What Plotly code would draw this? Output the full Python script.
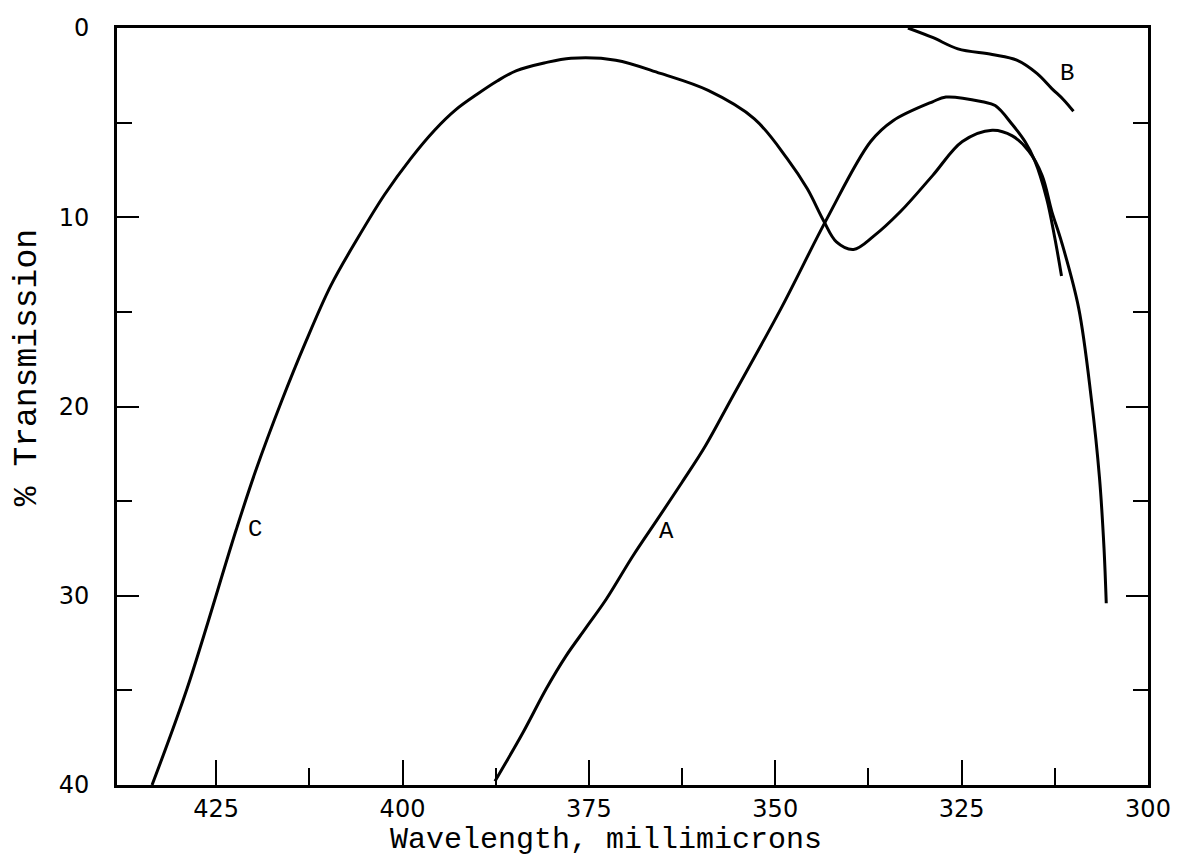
import plotly.graph_objects as go

# ---- data (wavelength in millimicrons, % transmission) ----
wl_A = [387.6, 383.8, 380.7, 378.1, 375.4, 372.7, 369.1, 365.7, 362.5, 359.4, 355.9,
        349.2, 343.1, 337.2, 334.2, 328.9, 327.1, 322.2, 320.5, 318.2, 316.5, 315.2,
        313.6, 312.5, 311.6]
tr_A = [39.8, 37.2, 34.9, 33.2, 31.7, 30.2, 27.9, 25.9, 24.0, 22.1, 19.6,
        14.8, 10.1, 6.0, 4.9, 3.9, 3.65, 3.9, 4.1, 5.1, 6.0, 7.0,
        9.0, 11.1, 13.1]

wl_B = [332.2, 328.9, 325.5, 320.9, 317.6, 314.9, 312.9, 311.3, 310.0]
tr_B = [0.0, 0.5, 1.1, 1.4, 1.7, 2.4, 3.2, 3.8, 4.4]

wl_C = [433.6, 428.9, 422.3, 419.7, 416.2, 413.0, 409.6, 406.0, 402.4, 398.9, 395.7,
        392.8, 390.0, 387.3, 384.7, 381.0, 377.4, 371.4, 365.4, 359.0, 352.8, 348.4,
        345.7, 343.5, 341.8, 339.5, 336.8, 333.2, 328.9, 324.9, 320.9, 318.2, 316.0,
        314.2, 312.9, 311.6, 309.3, 307.6, 306.5, 305.9, 305.6]
tr_C = [40.0, 34.9, 26.5, 23.4, 19.7, 16.6, 13.6, 11.1, 8.8, 6.9, 5.4,
        4.3, 3.5, 2.8, 2.25, 1.85, 1.6, 1.7, 2.4, 3.3, 4.8, 6.9,
        8.5, 10.2, 11.3, 11.7, 11.0, 9.7, 7.8, 6.0, 5.4, 5.7, 6.5,
        7.8, 9.7, 11.3, 14.8, 19.6, 23.8, 27.5, 30.4]

curve_labels = ["A", "B", "C"]
label_wl = [364.6, 310.9, 419.8]
label_tr = [26.6, 2.4, 26.5]

x_major = [425, 400, 375, 350, 325, 300]
x_minor = [412.5, 387.5, 362.5, 337.5, 312.5]
y_major = [0, 10, 20, 30, 40]
y_minor = [5, 15, 25, 35]
x_range = [438.3, 300]
y_range = [40, 0]

mono = "Liberation Mono, Courier New, monospace"
tickfont = dict(family="DejaVu Sans, sans-serif", size=24, color="black")

fig = go.Figure()
for wl, tr, name in [(wl_A, tr_A, "A"), (wl_B, tr_B, "B"), (wl_C, tr_C, "C")]:
    fig.add_trace(go.Scatter(x=wl, y=tr, mode="lines", name=name,
                             line=dict(color="black", width=3, shape="spline", smoothing=1.0),
                             showlegend=False, hoverinfo="skip"))

for t, xv, yv in zip(curve_labels, label_wl, label_tr):
    fig.add_annotation(x=xv, y=yv, xref="x", yref="y", text=t, showarrow=False,
                       font=dict(family=mono, size=24, color="black"))

fig.add_annotation(x=0.474, y=-0.072, xref="paper", yref="paper",
                   text="Wavelength, millimicrons", showarrow=False,
                   xanchor="center", yanchor="middle",
                   font=dict(family=mono, size=30, color="black"))
fig.add_annotation(x=-0.086, y=0.551, xref="paper", yref="paper",
                   text="% Transmission", showarrow=False, textangle=-90,
                   xanchor="center", yanchor="middle",
                   font=dict(family=mono, size=33, color="black"))

fig.update_layout(
    width=1183, height=860,
    margin=dict(l=117, r=26, t=28, b=75),
    paper_bgcolor="white", plot_bgcolor="white",
    xaxis=dict(range=x_range, showgrid=False, zeroline=False,
               showline=True, linecolor="black", linewidth=3, mirror=True,
               ticks="inside", ticklen=25, tickwidth=2, tickcolor="black",
               tickmode="array", tickvals=x_major, ticktext=[str(v) for v in x_major],
               tickfont=tickfont, ticklabelstandoff=0,
               minor=dict(tickmode="array", tickvals=x_minor, ticks="inside",
                          ticklen=17, tickwidth=2, tickcolor="black")),
    yaxis=dict(range=y_range, showgrid=False, zeroline=False,
               showline=True, linecolor="black", linewidth=3, mirror="ticks",
               ticks="inside", ticklen=22, tickwidth=2, tickcolor="black",
               tickmode="array", tickvals=y_major, ticktext=[str(v) for v in y_major],
               tickfont=tickfont, ticklabelstandoff=20,
               minor=dict(tickmode="array", tickvals=y_minor, ticks="inside",
                          ticklen=15, tickwidth=2, tickcolor="black")),
)

fig.write_html("out.html")
